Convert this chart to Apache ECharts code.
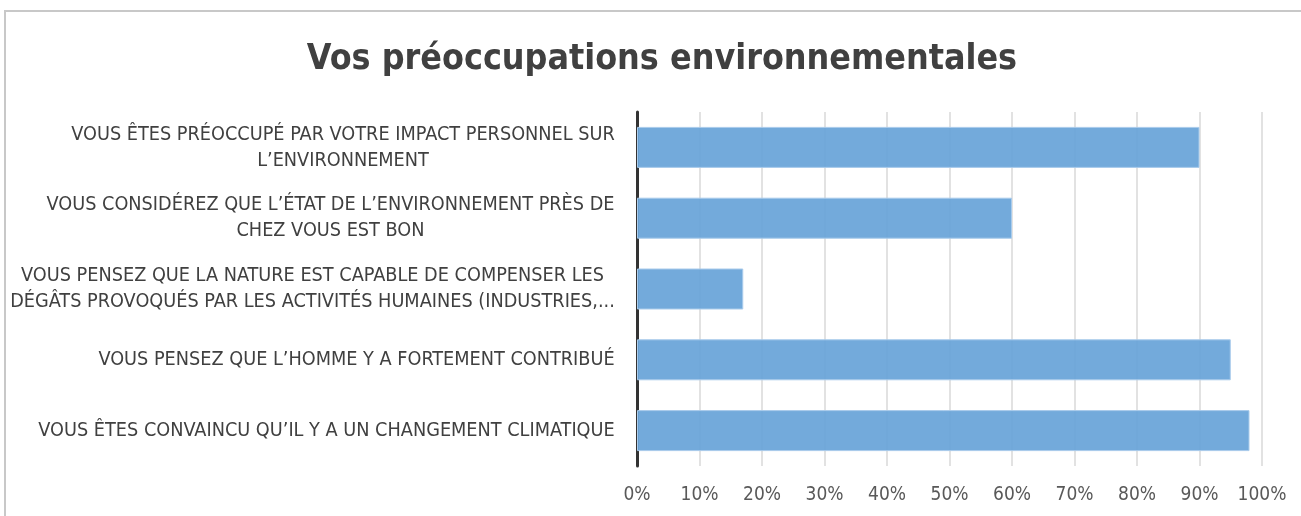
<!DOCTYPE html>
<html>
<head>
<meta charset="utf-8">
<script src="https://cdn.jsdelivr.net/npm/echarts@6/dist/echarts.min.js"></script>
<style>
  html, body { margin: 0; padding: 0; background: #fff; }
  #frame {
    position: absolute; left: 4px; top: 10px; right: -10px; bottom: -10px;
    border-top: 2px solid #c8c8c8; border-left: 2px solid #c8c8c8;
  }
  #chart { position: absolute; left: 0; top: 0; width: 1301px; height: 516px; }
</style>
</head>
<body>
<div id="frame"></div>
<div id="chart"></div>
<script>
// libellés (de haut en bas)
var categories = [
  'VOUS ÊTES PRÉOCCUPÉ PAR VOTRE IMPACT PERSONNEL SUR\nL’ENVIRONNEMENT',
  'VOUS CONSIDÉREZ QUE L’ÉTAT DE L’ENVIRONNEMENT PRÈS DE\nCHEZ VOUS EST BON',
  'VOUS PENSEZ QUE LA NATURE EST CAPABLE DE COMPENSER LES\nDÉGÂTS PROVOQUÉS PAR LES ACTIVITÉS HUMAINES (INDUSTRIES,...',
  'VOUS PENSEZ QUE L’HOMME Y A FORTEMENT CONTRIBUÉ',
  'VOUS ÊTES CONVAINCU QU’IL Y A UN CHANGEMENT CLIMATIQUE'
]
// part des réponses (%)
var values = [90, 60, 17, 95, 98]
var xTicks = [0, 10, 20, 30, 40, 50, 60, 70, 80, 90, 100]

var labelFont = '"Liberation Sans Narrow", "DejaVu Sans Condensed", "Open Sans", sans-serif'
var labelSize = 19.7

// largeur de chaque bloc de libellé pour centrer les lignes entre elles
var ctx = document.createElement('canvas').getContext('2d')
ctx.font = labelSize + 'px ' + labelFont
var rich = {}
categories.forEach(function (c, i) {
  var w = 0
  c.split('\n').forEach(function (line) {
    w = Math.max(w, ctx.measureText(line).width)
  })
  rich['l' + i] = {
    width: Math.ceil(w),
    align: 'center',
    fontSize: labelSize,
    fontFamily: labelFont,
    color: '#404040',
    lineHeight: 26
  }
})

var mychart = echarts.init(document.getElementById('chart'))
var option = {
  animation: false,
  title: {
    text: 'Vos préoccupations environnementales',
    left: 657,
    top: 37,
    textAlign: 'center',
    textStyle: {
      fontSize: 35.5,
      fontWeight: 'bold',
      color: '#404040',
      fontFamily: labelFont
    }
  },
  grid: {
    left: 637,
    right: 39,
    top: 112,
    bottom: 50,
    containLabel: false,
    outerBoundsMode: 'none'
  },
  xAxis: {
    type: 'value',
    min: xTicks[0],
    max: xTicks[xTicks.length - 1],
    interval: 10,
    axisLine: { show: false },
    axisTick: { show: false },
    splitLine: { lineStyle: { color: '#d9d9d9', width: 1.5 } },
    axisLabel: {
      margin: 20,
      fontSize: 19,
      color: '#595959',
      fontFamily: labelFont,
      formatter: function (v) { return v + '%' }
    }
  },
  yAxis: {
    type: 'category',
    inverse: true,
    data: categories,
    axisLine: { show: true, lineStyle: { color: '#333', width: 3 } },
    axisTick: { show: false },
    axisLabel: {
      margin: 22,
      align: 'right',
      formatter: function (v, i) {
        return v.split('\n').map(function (line) {
          return '{l' + i + '|' + line + '}'
        }).join('\n')
      },
      rich: rich
    }
  },
  series: [
    {
      type: 'bar',
      data: values,
      barWidth: 41,
      itemStyle: {
        color: 'rgba(108, 165, 217, 0.95)',
        borderColor: '#a9cbeb',
        borderWidth: 1
      }
    }
  ]
}
mychart.setOption(option)
</script>
</body>
</html>
